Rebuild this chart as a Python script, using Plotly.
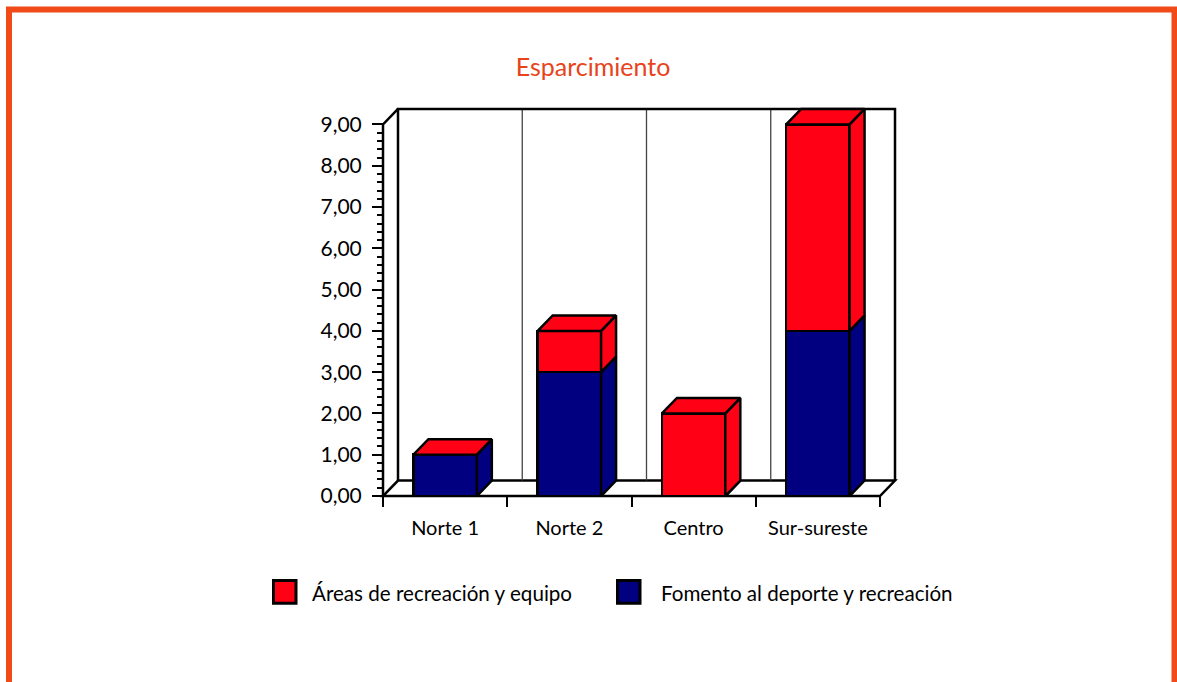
import plotly.graph_objects as go

# ---------------- data ----------------
categories = ["Norte 1", "Norte 2", "Centro", "Sur-sureste"]
series_names = ["Fomento al deporte y recreación", "Áreas de recreación y equipo"]
fomento = [1.0, 3.0, 0.0, 4.0]
areas = [0.0, 1.0, 2.0, 5.0]
series_values = [fomento, areas]
series_colors = ["#000080", "#FF0014"]
y_tick_vals = [0, 1, 2, 3, 4, 5, 6, 7, 8, 9]
y_tick_text = ["0,00", "1,00", "2,00", "3,00", "4,00", "5,00", "6,00", "7,00", "8,00", "9,00"]
legend_order = [1, 0]

# ---------------- geometry (styling) ----------------
W, H = 1177, 682
px_x0, px_x1 = 383, 880        # pixel of front plane left / right (x=-0.5 / x=n-0.5)
px_y0, px_y9 = 496, 124        # pixel of y=0 / y=9
depth_px_x, depth_px_y = 15, 15.5
pad = 5
n = len(categories)
y_max = y_tick_vals[-1]
sx = (px_x1 - px_x0) / n
sy = (px_y0 - px_y9) / y_max
dx = depth_px_x / sx
dy = depth_px_y / sy
bar_w = 0.51
edge = "black"
lw = 2.5

xr = [-0.5 - pad / sx, n - 0.5 + dx + pad / sx]
yr = [-pad / sy, y_max + dy + pad / sy]
L = px_x0 - pad
R = px_x1 + depth_px_x + pad
T = px_y9 - depth_px_y - pad
B = px_y0 + pad


def pxp(px):
    return (px - L) / (R - L)


def pyp(py):
    return (B - py) / (B - T)


xs = list(range(n))
fig = go.Figure()

# front faces as real stacked bars
for vals, name, col in zip(series_values, series_names, series_colors):
    fig.add_trace(go.Bar(x=xs, y=vals, width=bar_w, name=name, showlegend=False,
                         marker=dict(color=col, line=dict(color=edge, width=lw))))

# side faces (depth) per segment
base = [0.0] * n
for vals, col in zip(series_values, series_colors):
    px, py = [], []
    for i in range(n):
        x1 = xs[i] + bar_w / 2
        y0 = base[i]
        y1 = base[i] + vals[i]
        px += [x1, x1 + dx, x1 + dx, x1, x1, None]
        py += [y0, y0 + dy, y1 + dy, y1, y0, None]
        base[i] = y1
    fig.add_trace(go.Scatter(x=px, y=py, mode="lines", fill="toself", fillcolor=col,
                             line=dict(color=edge, width=lw), hoverinfo="skip",
                             showlegend=False))

# top faces
px, py = [], []
for i in range(n):
    x0 = xs[i] - bar_w / 2
    x1 = xs[i] + bar_w / 2
    t = base[i]
    px += [x0, x1, x1 + dx, x0 + dx, x0, None]
    py += [t, t, t + dy, t + dy, t, None]
fig.add_trace(go.Scatter(x=px, y=py, mode="lines", fill="toself", fillcolor=series_colors[-1],
                         line=dict(color=edge, width=lw), hoverinfo="skip", showlegend=False))

shapes = []
xl, xrr = -0.5, n - 0.5
# floor
shapes.append(dict(type="path", xref="x", yref="y", layer="below",
                   path=f"M {xl},0 L {xrr},0 L {xrr+dx},{dy} L {xl+dx},{dy} Z",
                   fillcolor="white", line=dict(color=edge, width=lw)))
# back wall gridlines
for k in range(1, n):
    gx = xl + k + dx
    shapes.append(dict(type="line", xref="x", yref="y", layer="below",
                       x0=gx, x1=gx, y0=dy, y1=y_max + dy,
                       line=dict(color="#444444", width=1.3)))
# back wall outline
shapes.append(dict(type="path", xref="x", yref="y", layer="below",
                   path=f"M {xl+dx},{dy} L {xl+dx},{y_max+dy} L {xrr+dx},{y_max+dy} L {xrr+dx},{dy}",
                   line=dict(color=edge, width=lw)))
# front left axis line + diagonal
shapes.append(dict(type="path", xref="x", yref="y", layer="below",
                   path=f"M {xl},0 L {xl},{y_max} L {xl+dx},{y_max+dy}",
                   line=dict(color=edge, width=lw)))

# orange frame
shapes.append(dict(type="rect", xref="paper", yref="paper",
                   x0=pxp(9), x1=pxp(1174.5), y0=pyp(720), y1=pyp(9),
                   line=dict(color="#F04A19", width=6), fillcolor="rgba(0,0,0,0)"))

# manual legend
annotations = []
leg_boxes = [(273.5, 296), (617.5, 640)]
leg_text_x = [310, 659]
for (bx0, bx1), tx, si in zip(leg_boxes, leg_text_x, legend_order):
    shapes.append(dict(type="rect", xref="paper", yref="paper",
                       x0=pxp(bx0), x1=pxp(bx1), y0=pyp(603.5), y1=pyp(580.5),
                       fillcolor=series_colors[si], line=dict(color=edge, width=3)))
    annotations.append(dict(xref="paper", yref="paper", x=pxp(tx), y=pyp(593),
                            xanchor="left", yanchor="middle", showarrow=False,
                            text=series_names[si],
                            font=dict(family="Lato", size=20.6, color="black")))

fig.update_layout(
    width=W, height=H,
    margin=dict(l=L, r=W - R, t=T, b=H - B, pad=0),
    paper_bgcolor="white", plot_bgcolor="white",
    barmode="stack",
    showlegend=False,
    title=dict(text="Esparcimiento", x=593 / W, xanchor="center",
               y=1 - 67 / H, yanchor="middle",
               font=dict(family="Lato", size=25, color="#E8431A")),
    xaxis=dict(range=xr, anchor="free", position=pad / (B - T),
               showgrid=False, zeroline=False, showline=False,
               tickmode="array", tickvals=xs, ticktext=categories,
               ticks="outside", ticklen=10, tickcolor="rgba(0,0,0,0)",
               ticklabelstandoff=4,
               tickfont=dict(family="Lato", size=20, color="black"),
               minor=dict(tickmode="array", tickvals=[k - 0.5 for k in range(n + 1)],
                          ticks="outside", ticklen=10, tickwidth=1.5, tickcolor=edge,
                          showgrid=False)),
    yaxis=dict(range=yr, anchor="free", position=pad / (R - L),
               showgrid=False, zeroline=False, showline=False,
               tickmode="array", tickvals=y_tick_vals, ticktext=y_tick_text,
               ticks="outside", ticklen=11, tickwidth=2, tickcolor=edge,
               ticklabelstandoff=6,
               tickfont=dict(family="Lato", size=21, color="black"),
               minor=dict(tickmode="array",
                          tickvals=[round(v * 0.2, 2) for v in range(int(y_max * 5) + 1) if v % 5 != 0],
                          ticks="outside", ticklen=6, tickwidth=1.5, tickcolor=edge,
                          showgrid=False)),
    shapes=shapes,
    annotations=annotations,
)

fig.write_html("out.html", config={"displayModeBar": False},
               post_script="document.body.style.margin='0';document.body.style.padding='0';")
